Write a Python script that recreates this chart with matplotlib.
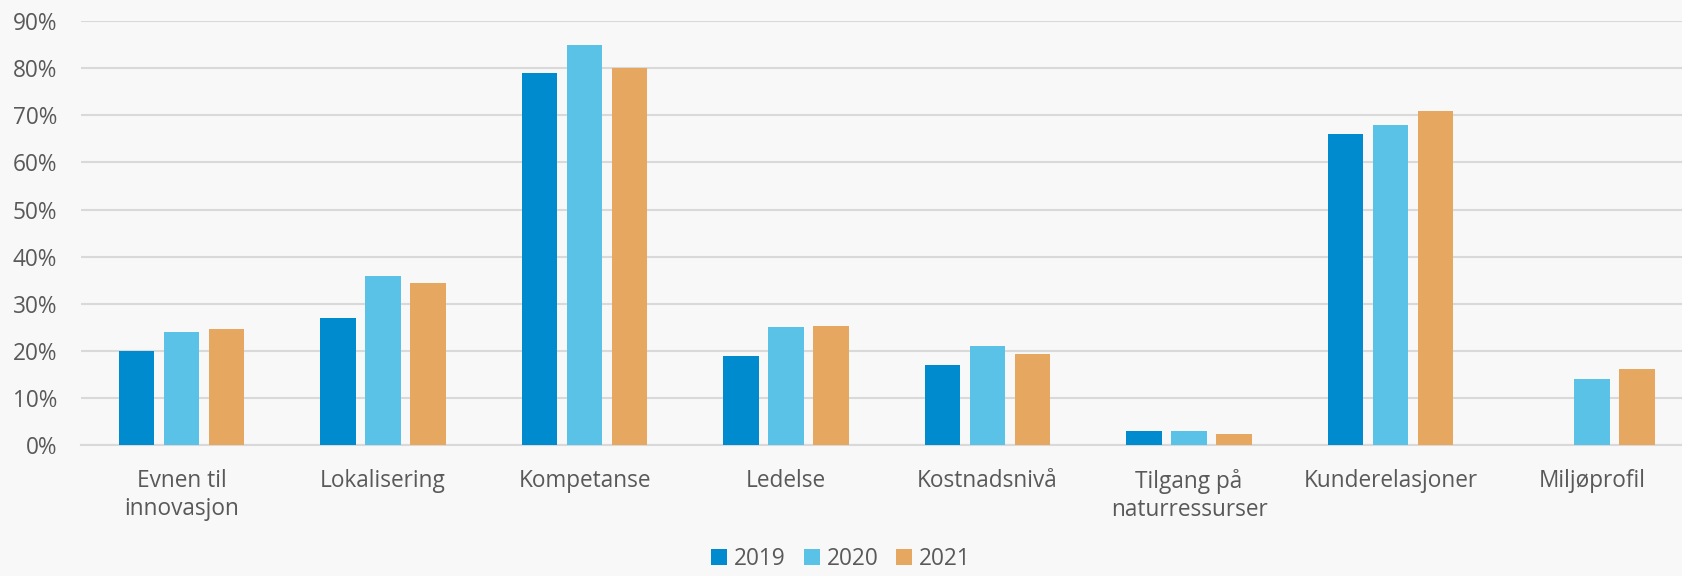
import numpy as np
import matplotlib.pyplot as plt
from matplotlib.ticker import PercentFormatter

plt.rcParams['font.family'] = ['Open Sans', 'DejaVu Sans']

categories = ['Evnen til\ninnovasjon', 'Lokalisering', 'Kompetanse', 'Ledelse',
              'Kostnadsnivå', 'Tilgang på\nnaturressurser', 'Kunderelasjoner', 'Miljøprofil']
years = ['2019', '2020', '2021']
v2019 = [20, 27, 79, 19, 17, 3, 66, np.nan]
v2020 = [24, 36, 85, 25, 21, 3, 68, 14]
v2021 = [24.7, 34.5, 80, 25.3, 19.4, 2.3, 71, 16.2]
colors = ['#008bce', '#5bc2e7', '#e6a760']

bg = '#f8f8f8'
txt = '#595959'
fs = 16.3

fig = plt.figure(figsize=(16.82, 5.76), dpi=100, facecolor=bg)
ax = fig.add_axes([0.048, 0.227, 0.9585, 0.7365], facecolor=bg)

x = np.arange(len(categories))
w = 0.176
step = 0.223
for i, (vals, c, yr) in enumerate(zip([v2019, v2020, v2021], colors, years)):
    ax.bar(x + (i - 1) * step, vals, width=w, color=c, label=yr, zorder=3)

ax.set_xlim(-0.5, len(categories) - 0.5)
ax.set_ylim(0, 90)
ax.set_yticks(np.arange(0, 91, 10))
ax.yaxis.set_major_formatter(PercentFormatter(decimals=0))
ax.grid(axis='y', color='#d9d9d9', linewidth=1.5, zorder=0)
ax.set_xticks(x)
ax.set_xticklabels(categories, linespacing=1.25)
ax.tick_params(axis='both', length=0, labelsize=fs, colors=txt)
ax.tick_params(axis='x', pad=17)
ax.tick_params(axis='y', pad=17)
for s in ['top', 'right', 'left']:
    ax.spines[s].set_visible(False)
ax.spines['bottom'].set_color('#d9d9d9')
ax.spines['bottom'].set_linewidth(1.5)

fig.legend(loc='center', bbox_to_anchor=(0.5, 0.03), ncol=3, frameon=False,
           fontsize=fs, labelcolor=txt, handlelength=0.7, handleheight=0.7,
           handletextpad=0.3, columnspacing=0.8)

fig.savefig('out.png', dpi=100, facecolor=bg)
